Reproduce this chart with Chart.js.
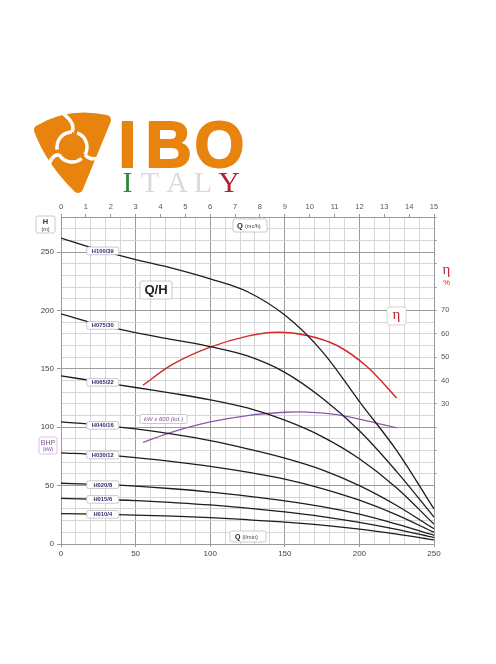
<!DOCTYPE html>
<html lang="it">
<head>
<meta charset="UTF-8">
<title>IBO Q/H</title>
<script src="https://cdn.jsdelivr.net/npm/chart.js"></script>
<style>
  * { margin: 0; padding: 0; box-sizing: border-box; }
  body { background: #fff; width: 496px; height: 664px; overflow: hidden; }
</style>
</head>
<body>
<canvas id="chart" width="496" height="664"></canvas>
<script>
// portata (l/min) for the pump curves
const flowLmin = [0, 25, 50, 75, 100, 125, 150, 175, 200, 225, 250];
const pumpNames = ["H100/39", "H075/30", "H065/22", "H040/16", "H030/12", "H020/8", "H015/6", "H010/4"];
const headH100 = [262, 252, 243.5, 236, 227, 216, 196, 165, 122, 80, 30];
const headH075 = [197, 188, 181, 175, 169, 161, 147, 125, 97, 62, 23];
const headH065 = [144, 139, 134, 129, 123.5, 116.5, 106, 92, 73, 48, 17];
const headH040 = [104.5, 102, 98.5, 94, 88.5, 81.5, 73.5, 63.5, 50, 33, 13];
const headH030 = [78, 76.5, 74, 70.5, 66.5, 61.5, 55.5, 47.5, 37.5, 25, 10];
const headH020 = [52, 51, 49.5, 47.3, 44.5, 41, 37, 32, 25.5, 17, 7.5];
const headH015 = [39, 38.3, 37.2, 35.5, 33.5, 30.8, 27.5, 23.5, 18.5, 12.5, 5.5];
const headH010 = [26, 25.5, 24.8, 23.8, 22.5, 20.8, 18.8, 16.2, 12.8, 8.5, 3.5];
const pumpHeads = [headH100, headH075, headH065, headH040, headH030, headH020, headH015, headH010];

// rendimento (%)
const effFlow = [55, 75, 100, 125, 145, 165, 185, 205, 225];
const effPct = [38, 47, 54.3, 59, 60.7, 59.3, 55, 46, 32.5];

// potenza kW x 600 (tot.), read on the H scale
const powerFlow = [55, 75, 100, 125, 150, 165, 185, 205, 225];
const powerVal = [87, 96, 104.5, 110, 112.8, 113, 110.8, 105.5, 99.5];

const etaLabels = [30, 40, 50, 60, 70];
const labelFlow = 28;

const FONT = '"Liberation Sans", Arial, sans-serif';

function pts(xs, ys) { return xs.map((x, i) => ({ x: x, y: ys[i] })); }

function interp(xs, ys, q) {
    for (let i = 1; i < xs.length; i++) {
        if (q <= xs[i]) {
            let t = (q - xs[i - 1]) / (xs[i] - xs[i - 1]);
            return ys[i - 1] + t * (ys[i] - ys[i - 1]);
        }
    }
    return ys[ys.length - 1];
}

function rbox(ctx, x, y, w, h, r, stroke) {
    ctx.beginPath();
    ctx.moveTo(x + r, y);
    ctx.arcTo(x + w, y, x + w, y + h, r);
    ctx.arcTo(x + w, y + h, x, y + h, r);
    ctx.arcTo(x, y + h, x, y, r);
    ctx.arcTo(x, y, x + w, y, r);
    ctx.closePath();
    ctx.fillStyle = '#fff';
    ctx.fill();
    ctx.strokeStyle = stroke || '#bcbcbc';
    ctx.lineWidth = 0.8;
    ctx.stroke();
}

function txt(ctx, s, x, y, font, color, align) {
    ctx.font = font;
    ctx.fillStyle = color;
    ctx.textAlign = align || 'center';
    ctx.textBaseline = 'middle';
    ctx.fillText(s, x, y);
}

function drawLogo(ctx) {
    const orange = '#e8830e';
    ctx.save();
    // emblem
    ctx.fillStyle = orange;
    ctx.strokeStyle = orange;
    ctx.lineJoin = 'round';
    ctx.lineWidth = 10;
    ctx.beginPath();
    ctx.moveTo(39, 130);
    ctx.quadraticCurveTo(70, 112, 106, 120);
    ctx.lineTo(78, 188);
    ctx.quadraticCurveTo(50, 160, 39, 130);
    ctx.closePath();
    ctx.fill();
    ctx.stroke();
    // white ring with gaps
    ctx.strokeStyle = '#fff';
    ctx.lineWidth = 3.5;
    const cx = 72, cy = 147;
    for (let k = 0; k < 3; k++) {
        let a0 = -Math.PI / 2 + k * 2 * Math.PI / 3 + 0.35;
        ctx.beginPath();
        ctx.arc(cx, cy, 15, a0, a0 + 1.75);
        ctx.stroke();
        ctx.beginPath();
        ctx.moveTo(cx + 15 * Math.cos(a0 + 1.75), cy + 15 * Math.sin(a0 + 1.75));
        ctx.quadraticCurveTo(cx + 24 * Math.cos(a0 + 1.9), cy + 24 * Math.sin(a0 + 1.9),
                             cx + 34 * Math.cos(a0 + 1.5), cy + 34 * Math.sin(a0 + 1.5));
        ctx.stroke();
    }
    ctx.fillStyle = orange;
    ctx.beginPath();
    ctx.arc(cx, cy, 10.5, 0, Math.PI * 2);
    ctx.fill();
    // IBO
    ctx.font = 'bold 64px ' + FONT;
    ctx.textAlign = 'center';
    ctx.textBaseline = 'alphabetic';
    ctx.fillStyle = orange;
    ctx.strokeStyle = orange;
    ctx.lineWidth = 2;
    [['I', 127.5], ['B', 168.5], ['O', 219.5]].forEach(l => {
        ctx.fillText(l[0], l[1], 167);
        ctx.strokeText(l[0], l[1], 167);
    });
    // ITALY
    ctx.font = '30px "Liberation Serif", "DejaVu Serif", serif';
    [['I', 127.5, '#2f8a3b'], ['T', 150, '#dadada'], ['A', 177, '#dadada'],
     ['L', 203, '#dadada'], ['Y', 229, '#b3202a']].forEach(l => {
        ctx.fillStyle = l[2];
        ctx.fillText(l[0], l[1], 192);
    });
    ctx.restore();
}

const decorPlugin = {
    id: 'decor',
    beforeDraw(chart) {
        const ctx = chart.ctx;
        ctx.save();
        ctx.fillStyle = '#fff';
        ctx.fillRect(0, 0, chart.width, chart.height);
        ctx.restore();
    },
    afterDatasetsDraw(chart) {
        const ctx = chart.ctx;
        const xs = chart.scales.x, ys = chart.scales.y;
        ctx.save();
        // curve labels
        pumpNames.forEach((name, i) => {
            const h = interp(flowLmin, pumpHeads[i], labelFlow);
            const px = xs.getPixelForValue(labelFlow), py = ys.getPixelForValue(h);
            rbox(ctx, px - 16, py - 3.8, 32, 7.6, 1.5);
            txt(ctx, name, px, py + 0.3, 'bold 5.8px ' + FONT, '#2b2b6e');
        });
        // boxes
        rbox(ctx, 36, 216, 19, 17, 2);
        txt(ctx, 'H', 45.5, 222, 'bold 7.5px ' + FONT, '#333');
        txt(ctx, '(m)', 45.5, 229, '5.5px ' + FONT, '#444');

        rbox(ctx, 233, 219, 34, 13, 2);
        txt(ctx, 'Q', 237, 225.8, 'bold 7.5px ' + FONT, '#222', 'left');
        txt(ctx, '(mc/h)', 245, 226, '5.5px ' + FONT, '#444', 'left');

        rbox(ctx, 140, 281, 32, 18, 2.5);
        txt(ctx, 'Q/H', 156, 290.5, 'bold 13px ' + FONT, '#222');

        rbox(ctx, 387, 307, 19, 18, 2.5, '#d9c4c4');
        txt(ctx, '\u03B7', 396.5, 315, '15px "Liberation Serif", serif', '#c0282d');

        txt(ctx, '\u03B7', 446.5, 270, '15px "Liberation Serif", serif', '#c0282d');
        txt(ctx, '%', 446.5, 283, '7.5px ' + FONT, '#c0282d');

        rbox(ctx, 140, 414.5, 47, 9, 1.5);
        txt(ctx, 'kW x 600 (tot.)', 163.5, 419.2, 'italic 6px ' + FONT, '#7d4f9a');

        rbox(ctx, 39, 437, 18, 17, 2, '#cdb8d8');
        txt(ctx, 'BHP', 48, 443, '7px ' + FONT, '#7d4f9a');
        txt(ctx, '(kW)', 48, 450, '5px ' + FONT, '#7d4f9a');

        rbox(ctx, 230, 531, 36, 11, 1.5);
        txt(ctx, 'Q', 235, 536.8, 'bold 7px ' + FONT, '#222', 'left');
        txt(ctx, '(l/min)', 242.5, 537, '5.5px ' + FONT, '#444', 'left');

        drawLogo(ctx);
        ctx.restore();
    }
};

const datasets = pumpNames.map((name, i) => ({
    label: name,
    data: pts(flowLmin, pumpHeads[i]),
    borderColor: '#1d1d1d',
    borderWidth: 1.3,
    pointRadius: 0,
    tension: 0.35,
    xAxisID: 'x',
    yAxisID: 'y'
}));
datasets.push({
    label: 'eta',
    data: pts(effFlow, effPct),
    borderColor: '#d42a2a',
    borderWidth: 1.5,
    pointRadius: 0,
    tension: 0.35,
    xAxisID: 'x',
    yAxisID: 'y2'
});
datasets.push({
    label: 'kW x 600',
    data: pts(powerFlow, powerVal),
    borderColor: '#8e5aa8',
    borderWidth: 1.3,
    pointRadius: 0,
    tension: 0.35,
    xAxisID: 'x',
    yAxisID: 'y'
});

const gridColor = c => (c.tick && c.tick.value % 50 === 0) ? '#9c9c9c' : '#d6d6d6';

new Chart(document.getElementById('chart'), {
    type: 'line',
    data: { datasets: datasets },
    plugins: [decorPlugin],
    options: {
        responsive: false,
        animation: false,
        devicePixelRatio: 1,
        layout: { padding: 0 },
        plugins: { legend: { display: false }, tooltip: { enabled: false } },
        scales: {
            x: {
                type: 'linear', position: 'bottom', min: 0, max: 250,
                ticks: {
                    stepSize: 10, autoSkip: false, maxRotation: 0, padding: 2,
                    font: { size: 8, family: FONT }, color: '#444',
                    callback: v => v % 50 === 0 ? v : ''
                },
                grid: { color: gridColor, tickLength: 3, tickColor: c => c.tick.value % 50 === 0 ? '#999' : 'transparent' },
                border: { color: '#999' },
                afterFit: s => { s.height = 120; }
            },
            x2: {
                type: 'linear', position: 'top', min: 0, max: 15,
                ticks: { stepSize: 1, autoSkip: false, maxRotation: 0, padding: 3, font: { size: 7.5, family: FONT }, color: '#555' },
                grid: { drawOnChartArea: false, tickLength: 3, color: '#999' },
                border: { color: '#999' },
                afterFit: s => { s.height = 217; }
            },
            y: {
                type: 'linear', position: 'left', min: 0, max: 280,
                ticks: {
                    stepSize: 10, autoSkip: false, padding: 3,
                    font: { size: 8, family: FONT }, color: '#444',
                    callback: v => v % 50 === 0 ? v : ''
                },
                grid: { color: gridColor, tickLength: 4, tickColor: c => c.tick.value % 50 === 0 ? '#999' : 'transparent' },
                border: { color: '#999' },
                afterFit: s => { s.width = 61; }
            },
            y2: {
                type: 'linear', position: 'right', min: -30, max: 110,
                ticks: {
                    stepSize: 10, autoSkip: false, padding: 4,
                    font: { size: 7.5, family: FONT }, color: '#555',
                    callback: v => etaLabels.includes(v) ? v : ''
                },
                grid: { drawOnChartArea: false, tickLength: 3, color: c => c.tick.value >= 0 ? '#aaa' : 'transparent' },
                border: { color: '#999' },
                afterFit: s => { s.width = 62; }
            }
        }
    }
});
</script>
</body>
</html>
